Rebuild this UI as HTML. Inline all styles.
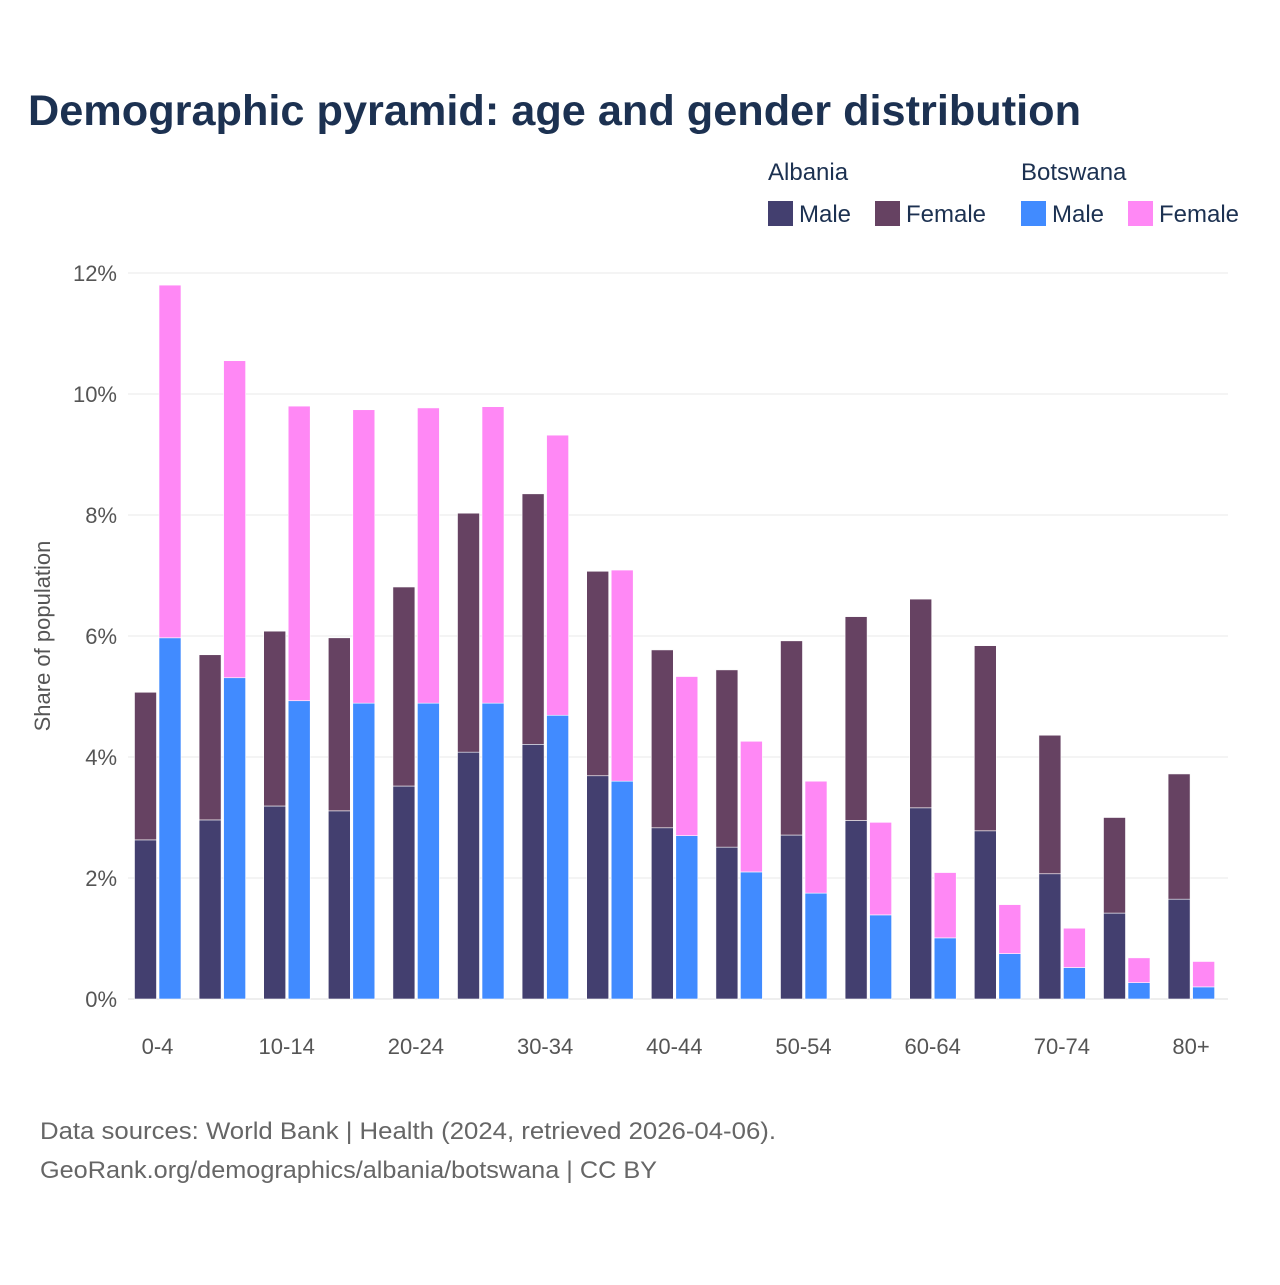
<!DOCTYPE html>
<html><head><meta charset="utf-8"><style>
body{margin:0;background:#fff;font-family:"Liberation Sans",sans-serif;}
</style></head><body>
<svg id="chart" width="1280" height="1280" viewBox="0 0 1280 1280" xmlns="http://www.w3.org/2000/svg">
<rect width="1280" height="1280" fill="#fff"/>
<text x="28" y="125" font-size="43" font-weight="bold" fill="#1c3151" textLength="1053" lengthAdjust="spacingAndGlyphs">Demographic pyramid: age and gender distribution</text>
<g font-size="24" fill="#1c3151">
<text x="768" y="180">Albania</text>
<text x="1021" y="180">Botswana</text>
<g><rect x="768" y="201" width="25" height="25" fill="#433f6f"/><text x="799" y="222">Male</text></g>
<g><rect x="875" y="201" width="25" height="25" fill="#664262"/><text x="906" y="222">Female</text></g>
<g><rect x="1021" y="201" width="25" height="25" fill="#418bff"/><text x="1052" y="222">Male</text></g>
<g><rect x="1128" y="201" width="25" height="25" fill="#ff88f5"/><text x="1159" y="222">Female</text></g>
</g>
<g id="grid"></g>
<g id="bars"></g>
<g id="xlabels" font-size="22" fill="#555" text-anchor="middle"></g>
<text transform="translate(50,636) rotate(-90)" font-size="22" fill="#555" text-anchor="middle">Share of population</text>
<text x="40" y="1139" font-size="24" fill="#666" textLength="736" lengthAdjust="spacingAndGlyphs">Data sources: World Bank | Health (2024, retrieved 2026-04-06).</text>
<text x="40" y="1178" font-size="24" fill="#666" textLength="617" lengthAdjust="spacingAndGlyphs">GeoRank.org/demographics/albania/botswana | CC BY</text>
</svg>
<script>
const categories=["0-4","5-9","10-14","15-19","20-24","25-29","30-34","35-39","40-44","45-49","50-54","55-59","60-64","65-69","70-74","75-79","80+"];
const albaniaMale=[2.63,2.96,3.19,3.11,3.52,4.08,4.21,3.69,2.83,2.51,2.71,2.95,3.16,2.78,2.07,1.42,1.65];
const albaniaFemale=[2.44,2.73,2.89,2.86,3.29,3.95,4.14,3.38,2.94,2.93,3.21,3.37,3.45,3.06,2.29,1.58,2.07];
const botswanaMale=[5.97,5.31,4.93,4.89,4.89,4.89,4.69,3.60,2.70,2.10,1.75,1.39,1.01,0.75,0.52,0.27,0.20];
const botswanaFemale=[5.83,5.24,4.87,4.85,4.88,4.90,4.63,3.49,2.63,2.16,1.85,1.53,1.08,0.81,0.65,0.41,0.42];
const yTicks=[0,2,4,6,8,10,12];
const NS="http://www.w3.org/2000/svg";
const y=v=>999-v*60.5;
const xc=i=>157.5+i*64.6;
const grid=document.getElementById('grid');
yTicks.forEach(t=>{
 const l=document.createElementNS(NS,'line');
 l.setAttribute('x1',128);l.setAttribute('x2',1228);l.setAttribute('y1',y(t));l.setAttribute('y2',y(t));
 l.setAttribute('stroke',t===0?'#ddd':'#e8e8e8');l.setAttribute('stroke-width',1);
 
 
 grid.appendChild(l);
 const tx=document.createElementNS(NS,'text');
 tx.setAttribute('x',117);tx.setAttribute('y',y(t)+8);tx.setAttribute('text-anchor','end');
 tx.setAttribute('font-size','22');tx.setAttribute('fill','#555');
 tx.textContent=t+'%';
 
 
 grid.appendChild(tx);
});
const bars=document.getElementById('bars');
function rect(x,v0,v1,color,name){
 const r=document.createElementNS(NS,'rect');
 r.setAttribute('x',x);r.setAttribute('width',22);
 r.setAttribute('y',y(v1));r.setAttribute('height',y(v0)-y(v1));
 r.setAttribute('fill',color);r.setAttribute('stroke','#fff');r.setAttribute('stroke-width','0.6');
 
 
 bars.appendChild(r);
}
categories.forEach((c,i)=>{
 const cx=xc(i);
 rect(cx-23,0,albaniaMale[i],'#433f6f','bar-albania-male-'+c);
 rect(cx-23,albaniaMale[i],albaniaMale[i]+albaniaFemale[i],'#664262','bar-albania-female-'+c);
 rect(cx+1.5,0,botswanaMale[i],'#418bff','bar-botswana-male-'+c);
 rect(cx+1.5,botswanaMale[i],botswanaMale[i]+botswanaFemale[i],'#ff88f5','bar-botswana-female-'+c);
 if(i%2===0){
  const t=document.createElementNS(NS,'text');
  t.setAttribute('x',cx);t.setAttribute('y',1054);t.textContent=c;
  
  
  document.getElementById('xlabels').appendChild(t);
 }
});
</script>
</body></html>
